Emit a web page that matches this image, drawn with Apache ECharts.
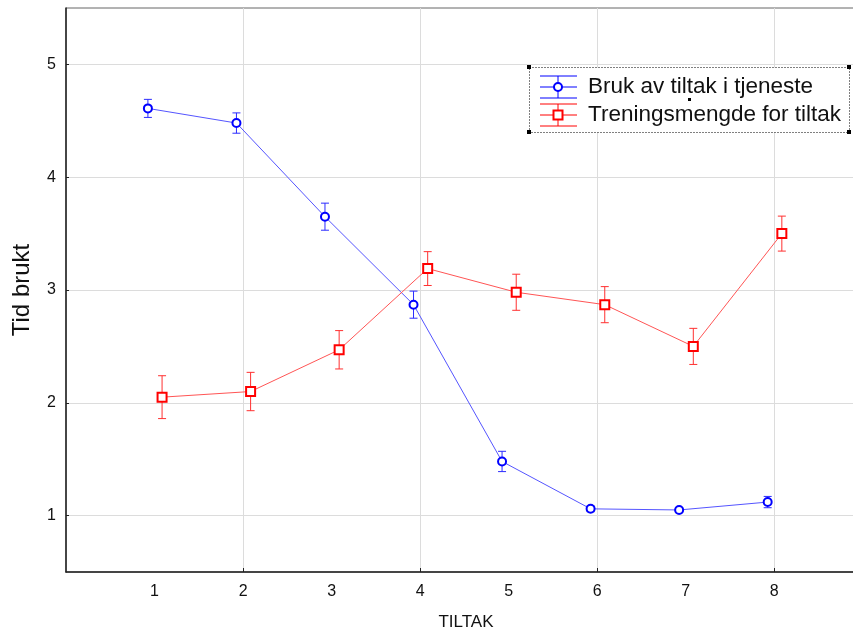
<!DOCTYPE html>
<html lang="no">
<head>
  <meta charset="UTF-8">
  <title>Tid brukt per tiltak</title>
  <script src="https://cdn.jsdelivr.net/npm/echarts@6/dist/echarts.min.js"></script>
</head>
<style>
  html, body { margin: 0; padding: 0; background: #fff; }
  #main { width: 853px; height: 632px; }
</style>
<body>
<div id="main"></div>
<script>
  // TILTAK 1..8
  const categories = [1, 2, 3, 4, 5, 6, 7, 8]
  const brukMean = [4.61, 4.48, 3.65, 2.87, 1.48, 1.06, 1.05, 1.12]
  const brukErr = [0.08, 0.09, 0.12, 0.12, 0.09, 0.025, 0.02, 0.05]
  const treningMean = [2.05, 2.10, 2.47, 3.19, 2.98, 2.87, 2.50, 3.50]
  const treningErr = [0.19, 0.17, 0.17, 0.15, 0.16, 0.16, 0.16, 0.155]
  const yTicks = [1, 2, 3, 4, 5]
  const xGridTicks = [2, 4, 6, 8]

  const names = ['Bruk av tiltak i tjeneste', 'Treningsmengde for tiltak']
  // the two series are drawn slightly apart around each category
  const shiftBruk = -0.075
  const shiftTrening = 0.085
  const font = 'Liberation Sans, Arial, sans-serif'

  const points = (mean, shift) => categories.map((c, i) => [c + shift, mean[i]])
  const bars = (mean, err, shift) => categories.map((c, i) => [c + shift, mean[i] - err[i], mean[i] + err[i]])

  function errorBar(color) {
    return function (params, api) {
      const lo = api.coord([api.value(0), api.value(1)])
      const hi = api.coord([api.value(0), api.value(2)])
      const w = 4
      const style = { stroke: color, lineWidth: 1 }
      return {
        type: 'group',
        children: [
          { type: 'line', shape: { x1: lo[0], y1: lo[1], x2: hi[0], y2: hi[1] }, style },
          { type: 'line', shape: { x1: lo[0] - w, y1: lo[1], x2: lo[0] + w, y2: lo[1] }, style },
          { type: 'line', shape: { x1: hi[0] - w, y1: hi[1], x2: hi[0] + w, y2: hi[1] }, style }
        ]
      }
    }
  }

  // legend box drawn by hand (dotted frame with handles, like the original)
  const lg = { x: 529, y: 67, w: 320, h: 65 }
  function handle(x, y) {
    return { type: 'rect', z: 12, shape: { x: x - 2, y: y - 2, width: 4, height: 4 }, style: { fill: '#000' }, silent: true }
  }
  function legendIcon(cy, color, symbol) {
    const x0 = 540, x1 = 577, cx = 558
    const s = { stroke: color, lineWidth: 1 }
    const items = [
      { type: 'line', z: 12, shape: { x1: x0, y1: cy - 11, x2: x1, y2: cy - 11 }, style: s },
      { type: 'line', z: 12, shape: { x1: x0, y1: cy, x2: x1, y2: cy }, style: s },
      { type: 'line', z: 12, shape: { x1: x0, y1: cy + 11, x2: x1, y2: cy + 11 }, style: s },
      { type: 'line', z: 12, shape: { x1: cx, y1: cy - 11, x2: cx, y2: cy + 11 }, style: s }
    ]
    if (symbol === 'circle') {
      items.push({ type: 'circle', z: 13, shape: { cx: cx, cy: cy, r: 4 }, style: { fill: '#fff', stroke: color, lineWidth: 2 } })
    } else {
      items.push({ type: 'rect', z: 13, shape: { x: cx - 4.5, y: cy - 4.5, width: 9, height: 9 }, style: { fill: '#fff', stroke: color, lineWidth: 2 } })
    }
    return items
  }

  const chart = echarts.init(document.getElementById('main'))
  chart.setOption({
    animation: false,
    backgroundColor: '#fff',
    textStyle: { fontFamily: font },
    grid: {
      left: 66, top: 8, right: -1, bottom: 60,
      outerBoundsMode: 'none',
      show: true, borderColor: '#666', borderWidth: 1
    },
    xAxis: {
      type: 'value',
      min: 0,
      max: 8.9,
      name: 'TILTAK',
      nameLocation: 'middle',
      nameGap: 42,
      nameTextStyle: { fontSize: 17, color: '#111', padding: [0, 0, 0, 12] },
      axisLine: { show: true, onZero: false, lineStyle: { color: '#222', width: 1.5 } },
      axisTick: { show: true, inside: true, length: 4, customValues: xGridTicks, lineStyle: { color: '#222' } },
      axisLabel: { customValues: categories, fontSize: 16, color: '#111', margin: 12 },
      splitLine: { show: true, lineStyle: { color: '#dcdcdc', width: 1 } }
    },
    yAxis: {
      type: 'value',
      min: 0.5,
      max: 5.5,
      name: 'Tid brukt',
      nameLocation: 'middle',
      nameGap: 32,
      nameTextStyle: { fontSize: 24, color: '#111' },
      axisLine: { show: true, lineStyle: { color: '#222', width: 1.5 } },
      axisTick: { show: true, inside: true, length: 3, customValues: yTicks, lineStyle: { color: '#222' } },
      axisLabel: { customValues: yTicks, fontSize: 16, color: '#111', margin: 10 },
      splitLine: { show: true, lineStyle: { color: '#dcdcdc', width: 1 } }
    },
    series: [
      {
        name: names[0],
        type: 'line',
        data: points(brukMean, shiftBruk),
        symbol: 'circle',
        symbolSize: 8,
        lineStyle: { color: '#5555ff', width: 1 },
        itemStyle: { color: '#fff', borderColor: '#0000ff', borderWidth: 2 },
        z: 3
      },
      {
        name: names[0] + ' err',
        type: 'custom',
        renderItem: errorBar('#2b2bff'),
        data: bars(brukMean, brukErr, shiftBruk),
        encode: { x: 0, y: [1, 2] },
        z: 2
      },
      {
        name: names[1],
        type: 'line',
        data: points(treningMean, shiftTrening),
        symbol: 'rect',
        symbolSize: 9,
        lineStyle: { color: '#ff5555', width: 1 },
        itemStyle: { color: '#fff', borderColor: '#ff0000', borderWidth: 2 },
        z: 3
      },
      {
        name: names[1] + ' err',
        type: 'custom',
        renderItem: errorBar('#ff3030'),
        data: bars(treningMean, treningErr, shiftTrening),
        encode: { x: 0, y: [1, 2] },
        z: 2
      }
    ],
    graphic: [
      {
        type: 'rect',
        z: 10,
        shape: { x: lg.x + 0.5, y: lg.y + 0.5, width: lg.w, height: lg.h },
        style: { fill: '#fff', stroke: '#000', lineWidth: 1, lineDash: [1, 2] }
      },
      handle(lg.x, lg.y), handle(lg.x + lg.w, lg.y),
      handle(lg.x, lg.y + lg.h), handle(lg.x + lg.w, lg.y + lg.h),
      { type: 'rect', z: 12, shape: { x: 688, y: 98, width: 3, height: 3 }, style: { fill: '#000' } },
      ...legendIcon(87, '#0000ff', 'circle'),
      ...legendIcon(115, '#ff0000', 'rect'),
      { type: 'text', z: 12, style: { x: 588, y: 87, text: names[0], fontSize: 22.5, fill: '#111', verticalAlign: 'middle', fontFamily: font } },
      { type: 'text', z: 12, style: { x: 588, y: 115, text: names[1], fontSize: 22.5, fill: '#111', verticalAlign: 'middle', fontFamily: font } }
    ]
  })
</script>
</body>
</html>
